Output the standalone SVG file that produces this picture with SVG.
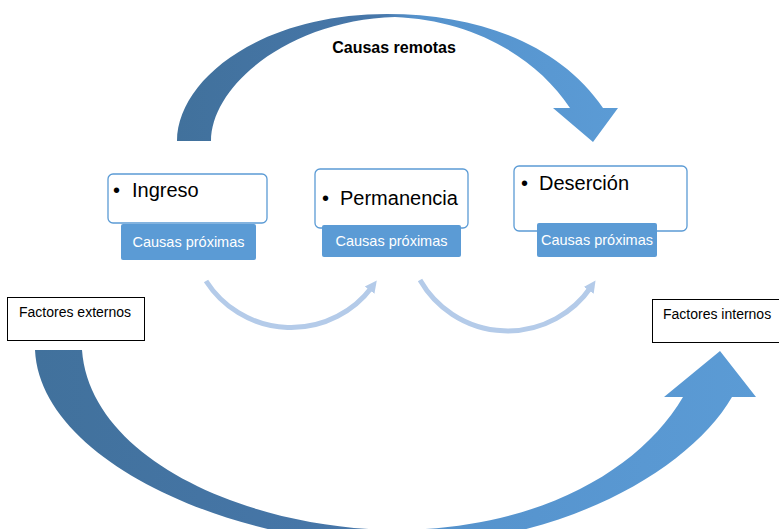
<svg xmlns="http://www.w3.org/2000/svg" width="779" height="529" viewBox="0 0 779 529">
<defs>
<linearGradient id="gBlue" x1="0" y1="0" x2="1" y2="0">
<stop offset="0" stop-color="#41719C"/>
<stop offset="0.46" stop-color="#4777AA"/>
<stop offset="0.54" stop-color="#5592CC"/>
<stop offset="1" stop-color="#5B9BD5"/>
</linearGradient>
<marker id="ah" markerUnits="userSpaceOnUse" markerWidth="14" markerHeight="14" viewBox="0 0 14 14" refX="4" refY="7" orient="auto">
<path d="M0,1 L12,7 L0,13 Z" fill="#B4CBE9"/>
</marker>
<style>
.card{fill:#fff;stroke:#5B9BD5;stroke-width:1.3}
.tag{fill:#5B9BD5}
.big{font-family:"Liberation Sans",Arial,sans-serif;font-size:20px;fill:#000}
.tagt{font-family:"Liberation Sans",Arial,sans-serif;font-size:14.5px;fill:#fff;text-anchor:middle}
.fbox{fill:#fff;stroke:#000;stroke-width:1}
.ft{font-family:"Liberation Sans",Arial,sans-serif;font-size:14px;fill:#000}
.small{fill:none;stroke:#B4CBE9;stroke-width:5}
</style>
</defs>
<rect width="779" height="529" fill="#fff"/>
<g id="connectors">
<path id="remotas-arrow" fill="url(#gBlue)" d="M177,141 C177,80 260,14 387,14 C480,14 560,45 603,108 L618,108 L593,142 L553,108 L570,108 C535,55 470,20 395,17 C290,20 211,85 211,141 Z"/>
<path id="factores-arrow" fill="url(#gBlue)" d="M35,350 C40,460 230,545 400,545 C560,545 690,470 732,397 L756,397 L720,351 L664,397 L683,397 C640,470 540,528 400,530 C250,530 90,460 82,350 Z"/>
<path class="small" marker-end="url(#ah)" d="M206,281 A101,101 0 0 0 372,287"/>
<path class="small" marker-end="url(#ah)" d="M420,280 A101,101 0 0 0 591,287"/>
<text x="394" y="53" font-family="'Liberation Sans',Arial,sans-serif" font-size="16" font-weight="bold" text-anchor="middle" fill="#000">Causas remotas</text>
</g>
<g id="ingreso">
<rect class="card" x="108" y="174" width="159" height="49" rx="5"/>
<text class="big" y="197"><tspan x="113">•</tspan><tspan x="132">Ingreso</tspan></text>
<rect class="tag" x="121" y="224" width="135" height="36" rx="2"/>
<text class="tagt" x="188.5" y="247">Causas próximas</text>
</g>
<g id="permanencia">
<rect class="card" x="315" y="169" width="153" height="59" rx="5"/>
<text class="big" y="205"><tspan x="322">•</tspan><tspan x="340">Permanencia</tspan></text>
<rect class="tag" x="322" y="225" width="139" height="32" rx="2"/>
<text class="tagt" x="391.5" y="246">Causas próximas</text>
</g>
<g id="desercion">
<rect class="card" x="514" y="166" width="173" height="65" rx="5"/>
<text class="big" y="190"><tspan x="521">•</tspan><tspan x="539">Deserción</tspan></text>
<rect class="tag" x="537" y="223" width="120" height="34" rx="2"/>
<text class="tagt" x="597" y="245">Causas próximas</text>
</g>
<g id="factores-externos">
<rect class="fbox" x="7.5" y="297.5" width="137" height="43"/>
<text class="ft" x="19" y="317">Factores externos</text>
</g>
<g id="factores-internos">
<rect class="fbox" x="652.5" y="299.5" width="140" height="43"/>
<text class="ft" x="663" y="319">Factores internos</text>
</g>
</svg>
